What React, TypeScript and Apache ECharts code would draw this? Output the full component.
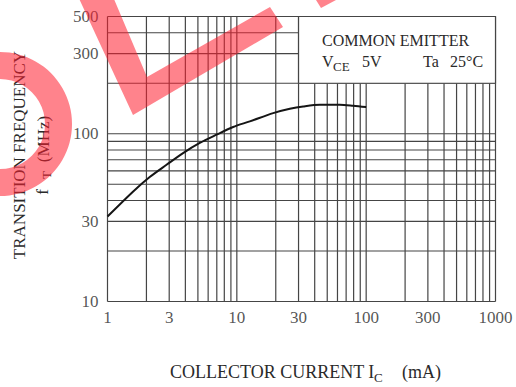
import React, { useEffect, useRef } from 'react';
import * as echarts from 'echarts';

// Collector current (mA) and transition frequency fT (MHz)
const currentMA = [1.0, 1.58, 2.12, 2.86, 3.84, 5.17, 6.97, 9.36, 12.6, 19.1, 25.7, 32.6, 43.9, 62.6, 79.4, 100];
const fTMHz = [32.1, 45.3, 55.2, 65.3, 76.7, 88.1, 98.7, 109.7, 118.5, 132.8, 140.9, 145.5, 148.9, 148.9, 146.9, 144.2];

const xTickLabels = [1, 3, 10, 30, 100, 300, 1000];
const yTickLabels = [10, 30, 100, 300, 500];

const xGridValues = [1, 2, 3, 4, 5, 6, 7, 8, 9, 10, 20, 30, 40, 50, 60, 70, 80, 90, 100, 200, 300, 400, 500, 600, 700, 800, 900, 1000];
const yGridValues = [10, 20, 30, 40, 50, 60, 70, 80, 90, 100, 200, 300, 400, 500];

// legend box corners in data units: [xFrom, yTop, xTo, yBottom]
const legendBox = [30, 500, 1000, 200];

const X_MIN = 1, X_MAX = 1000, Y_MIN = 10, Y_MAX = 500;
const FONT = "'Liberation Serif', 'Times New Roman', serif";
const GRID_COLOR = '#454545';
const TEXT_COLOR = '#2a2a2a';
const WM = 'rgba(255, 30, 45, 0.55)';

export default function App() {
  const ref = useRef<HTMLDivElement>(null);
  useEffect(() => {
    if (!ref.current) return;
    const chart = echarts.init(ref.current, undefined, { renderer: 'svg' });
    const txt = (text: string, x: number, y: number, size: number, extra: any = {}) => ({
      type: 'text',
      x, y,
      z: 50,
      style: { text, fontFamily: FONT, fontSize: size, fill: TEXT_COLOR, align: 'left', verticalAlign: 'middle', ...extra },
    });
    const option: any = {
      animation: false,
      backgroundColor: '#ffffff',
      grid: { left: 107.5, top: 16.5, width: 388, height: 285, containLabel: false },
      xAxis: {
        type: 'log', logBase: 10, min: X_MIN, max: X_MAX,
        axisLine: { show: false }, axisTick: { show: false }, axisLabel: { show: false }, splitLine: { show: false },
      },
      yAxis: {
        type: 'log', logBase: 10, min: Y_MIN, max: Y_MAX,
        axisLine: { show: false }, axisTick: { show: false }, axisLabel: { show: false }, splitLine: { show: false },
      },
      series: [
        {
          type: 'custom', name: 'vgrid', z: 1, silent: true, clip: false,
          data: xGridValues.map((v) => [v, Y_MIN]),
          encode: { x: 0, y: 1 },
          renderItem: (params: any, api: any) => {
            const v = api.value(0);
            const p1 = api.coord([v, Y_MIN]);
            const p2 = api.coord([v, Y_MAX]);
            return { type: 'line', shape: { x1: p1[0], y1: p1[1], x2: p2[0], y2: p2[1] }, style: { stroke: GRID_COLOR, lineWidth: 1.2 } };
          },
        },
        {
          type: 'custom', name: 'hgrid', z: 1, silent: true, clip: false,
          data: yGridValues.map((v) => [X_MIN, v]),
          encode: { x: 0, y: 1 },
          renderItem: (params: any, api: any) => {
            const v = api.value(1);
            const p1 = api.coord([X_MIN, v]);
            const p2 = api.coord([X_MAX, v]);
            return { type: 'line', shape: { x1: p1[0], y1: p1[1], x2: p2[0], y2: p2[1] }, style: { stroke: GRID_COLOR, lineWidth: 1.2 } };
          },
        },
        {
          type: 'custom', name: 'box', z: 3, silent: true, clip: false,
          data: [legendBox],
          encode: { x: [0, 2], y: [1, 3] },
          renderItem: (params: any, api: any) => {
            const a = api.coord([api.value(0), api.value(1)]);
            const b = api.coord([api.value(2), api.value(3)]);
            return {
              type: 'rect',
              shape: { x: a[0], y: a[1], width: b[0] - a[0], height: b[1] - a[1] },
              style: { fill: '#ffffff', stroke: GRID_COLOR, lineWidth: 1.2 },
            };
          },
        },
        {
          type: 'line', name: 'fT', z: 5,
          data: currentMA.map((c, i) => [c, fTMHz[i]]),
          showSymbol: false, symbol: 'none', smooth: 0.3,
          lineStyle: { color: '#151515', width: 2 },
        },
        {
          type: 'scatter', name: 'xlabels', z: 6, silent: true, clip: false,
          symbolSize: 0.1, itemStyle: { color: 'rgba(0,0,0,0)' },
          data: xTickLabels.map((v) => [v, Y_MIN]),
          label: {
            show: true, position: 'bottom', distance: 7,
            formatter: (p: any) => String(p.value[0]),
            fontFamily: FONT, fontSize: 17, color: TEXT_COLOR,
          },
        },
        {
          type: 'scatter', name: 'ylabels', z: 6, silent: true, clip: false,
          symbolSize: 0.1, itemStyle: { color: 'rgba(0,0,0,0)' },
          data: yTickLabels.map((v) => [X_MIN, v]),
          label: {
            show: true, position: 'left', distance: 9,
            formatter: (p: any) => String(p.value[1]),
            fontFamily: FONT, fontSize: 17, color: TEXT_COLOR,
          },
        },
      ],
      graphic: [
        // legend box texts
        txt('COMMON EMITTER', 322, 40, 16),
        txt('V', 322, 61, 16),
        txt('CE', 333, 66, 13),
        txt('5V', 362, 61, 16),
        txt('Ta', 423, 61, 16),
        txt('25°C', 450, 61, 16),
        // x axis title
        txt('COLLECTOR CURRENT I', 170, 372, 18),
        txt('C', 374, 377, 13),
        txt('(mA)', 402, 372, 18),
        // y axis title (rotated)
        { type: 'text', x: 19, y: 155, rotation: Math.PI / 2, z: 50,
          style: { text: 'TRANSITION FREQUENCY', fontFamily: FONT, fontSize: 17, fill: TEXT_COLOR, align: 'center', verticalAlign: 'middle' } },
        { type: 'text', x: 43, y: 139, rotation: Math.PI / 2, z: 50,
          style: { text: '(MHz)', fontFamily: FONT, fontSize: 17, fill: TEXT_COLOR, align: 'center', verticalAlign: 'middle' } },
        { type: 'text', x: 42, y: 192, rotation: Math.PI / 2, z: 50,
          style: { text: 'f', fontFamily: FONT, fontSize: 17, fill: TEXT_COLOR, align: 'center', verticalAlign: 'middle' } },
        { type: 'text', x: 46, y: 175, rotation: Math.PI / 2, z: 50,
          style: { text: 'T', fontFamily: FONT, fontSize: 13, fill: TEXT_COLOR, align: 'center', verticalAlign: 'middle' } },
        // red watermark shapes
        { type: 'ring', z: 100, silent: true, shape: { cx: 0, cy: 124, r: 72, r0: 45 }, style: { fill: WM } },
        { type: 'polygon', z: 100, silent: true,
          shape: { points: [[133, 115], [76, -8], [111, -8], [147, 77], [270, 7], [283, 27]] }, style: { fill: WM } },
        { type: 'polygon', z: 100, silent: true,
          shape: { points: [[316, 0], [321, 8], [336, 0]] }, style: { fill: WM } },
      ],
    };
    chart.setOption(option);
    return () => chart.dispose();
  }, []);
  return <div ref={ref} style={{ position: 'fixed', left: 0, top: 0, width: 516, height: 387, background: '#fff' }} />;
}
